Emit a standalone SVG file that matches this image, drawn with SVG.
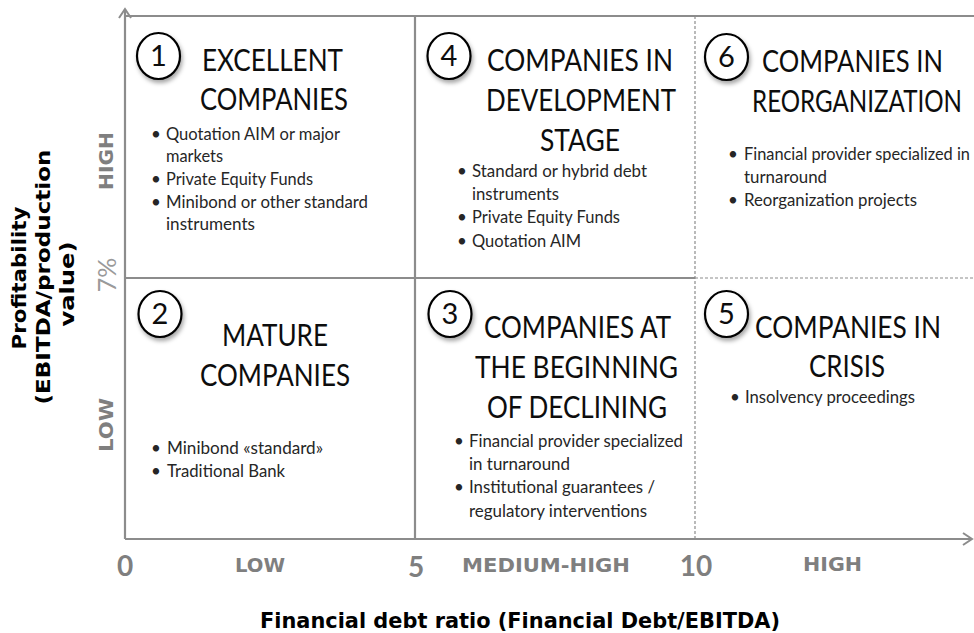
<svg xmlns="http://www.w3.org/2000/svg" width="974" height="633" viewBox="0 0 974 633">
<style>
.ln{stroke:#8c8c8c;stroke-width:2.2;fill:none}
.dl{stroke:#8c8c8c;stroke-width:1.2;stroke-dasharray:3 2;fill:none}
.ttl{font-family:Lato,"Liberation Sans",sans-serif;font-size:30px;fill:#0d0d0d}
.bl{font-family:Lato,"Liberation Sans",sans-serif;font-size:17px;fill:#262626}
.num{font-family:Lato,"Liberation Sans",sans-serif;font-size:29px;fill:#0d0d0d;text-anchor:middle}
.cir{fill:#fff;stroke:#000;stroke-width:2.2}
.ax{font-family:"DejaVu Sans",Verdana,sans-serif;font-weight:bold;font-size:20px;fill:#7f7f7f}
.axn{font-family:Lato,"Liberation Sans",sans-serif;font-weight:bold;font-size:28px;fill:#7f7f7f;text-anchor:middle}
.yt{font-family:"DejaVu Sans",Verdana,sans-serif;font-weight:bold;font-size:19px;fill:#000;text-anchor:middle}
</style>
<defs>
<filter id="sh" x="-30%" y="-30%" width="170%" height="170%">
<feDropShadow dx="1.5" dy="3" stdDeviation="2" flood-color="#000" flood-opacity="0.35"/>
</filter>
<marker id="ah" markerWidth="12" markerHeight="14" refX="10" refY="7" orient="auto" markerUnits="userSpaceOnUse">
<path d="M1,1 L10,7 L1,13" fill="none" stroke="#8c8c8c" stroke-width="2"/>
</marker>
</defs>
<rect width="974" height="633" fill="#fff"/>

<g id="connectors">
<line class="ln" x1="125" y1="539" x2="125" y2="9" marker-end="url(#ah)"/>
<line class="ln" x1="125" y1="539" x2="972" y2="539" marker-end="url(#ah)"/>
<line class="ln" x1="125" y1="16" x2="974" y2="16"/>
<line class="ln" x1="125" y1="278" x2="695" y2="278"/>
<line class="ln" x1="415" y1="16" x2="415" y2="539"/>
<line class="dl" x1="695" y1="16" x2="695" y2="539"/>
<line class="dl" x1="695" y1="278" x2="974" y2="278"/>
</g>

<g id="q1">
<ellipse class="cir" cx="158.5" cy="56" rx="21.5" ry="23" filter="url(#sh)"/>
<text class="num" x="158.5" y="66">1</text>
<text class="ttl" x="202" y="71" textLength="141" lengthAdjust="spacingAndGlyphs">EXCELLENT</text>
<text class="ttl" x="200" y="110" textLength="148" lengthAdjust="spacingAndGlyphs">COMPANIES</text>
<text class="bl" x="151" y="140">•</text><text class="bl" x="166" y="140" textLength="174" lengthAdjust="spacingAndGlyphs">Quotation AIM or major</text>
<text class="bl" x="166" y="162" textLength="57" lengthAdjust="spacingAndGlyphs">markets</text>
<text class="bl" x="151" y="185">•</text><text class="bl" x="166" y="185" textLength="147" lengthAdjust="spacingAndGlyphs">Private Equity Funds</text>
<text class="bl" x="151" y="208">•</text><text class="bl" x="166" y="208" textLength="202" lengthAdjust="spacingAndGlyphs">Minibond or other standard</text>
<text class="bl" x="166" y="230" textLength="89" lengthAdjust="spacingAndGlyphs">instruments</text>
</g>

<g id="q4">
<ellipse class="cir" cx="449" cy="56" rx="21.5" ry="23" filter="url(#sh)"/>
<text class="num" x="449" y="66">4</text>
<text class="ttl" x="487" y="71" textLength="186" lengthAdjust="spacingAndGlyphs">COMPANIES IN</text>
<text class="ttl" x="486" y="111" textLength="190" lengthAdjust="spacingAndGlyphs">DEVELOPMENT</text>
<text class="ttl" x="540" y="151" textLength="80" lengthAdjust="spacingAndGlyphs">STAGE</text>
<text class="bl" x="457" y="177">•</text><text class="bl" x="472" y="177" textLength="175" lengthAdjust="spacingAndGlyphs">Standard or hybrid debt</text>
<text class="bl" x="472" y="200" textLength="87" lengthAdjust="spacingAndGlyphs">instruments</text>
<text class="bl" x="457" y="223">•</text><text class="bl" x="472" y="223" textLength="148" lengthAdjust="spacingAndGlyphs">Private Equity Funds</text>
<text class="bl" x="457" y="247">•</text><text class="bl" x="472" y="247" textLength="109" lengthAdjust="spacingAndGlyphs">Quotation AIM</text>
</g>

<g id="q6">
<ellipse class="cir" cx="726.5" cy="57" rx="21.5" ry="23" filter="url(#sh)"/>
<text class="num" x="726.5" y="67">6</text>
<text class="ttl" x="762" y="72" textLength="181" lengthAdjust="spacingAndGlyphs">COMPANIES IN</text>
<text class="ttl" x="752" y="112" textLength="210" lengthAdjust="spacingAndGlyphs">REORGANIZATION</text>
<text class="bl" x="728" y="160">•</text><text class="bl" x="744" y="160" textLength="226" lengthAdjust="spacingAndGlyphs">Financial provider specialized in</text>
<text class="bl" x="744" y="183" textLength="83" lengthAdjust="spacingAndGlyphs">turnaround</text>
<text class="bl" x="728" y="206">•</text><text class="bl" x="744" y="206" textLength="173" lengthAdjust="spacingAndGlyphs">Reorganization projects</text>
</g>

<g id="q2">
<ellipse class="cir" cx="160" cy="314" rx="21.5" ry="23" filter="url(#sh)"/>
<text class="num" x="160" y="324">2</text>
<text class="ttl" x="222" y="346" textLength="106" lengthAdjust="spacingAndGlyphs">MATURE</text>
<text class="ttl" x="200" y="386" textLength="150" lengthAdjust="spacingAndGlyphs">COMPANIES</text>
<text class="bl" x="151" y="454">•</text><text class="bl" x="167" y="454" textLength="156" lengthAdjust="spacingAndGlyphs">Minibond «standard»</text>
<text class="bl" x="151" y="477">•</text><text class="bl" x="167" y="477" textLength="118" lengthAdjust="spacingAndGlyphs">Traditional Bank</text>
</g>

<g id="q3">
<ellipse class="cir" cx="450" cy="314" rx="21.5" ry="23" filter="url(#sh)"/>
<text class="num" x="450" y="324">3</text>
<text class="ttl" x="484" y="338" textLength="187" lengthAdjust="spacingAndGlyphs">COMPANIES AT</text>
<text class="ttl" x="475" y="378" textLength="203" lengthAdjust="spacingAndGlyphs">THE BEGINNING</text>
<text class="ttl" x="487" y="418" textLength="180" lengthAdjust="spacingAndGlyphs">OF DECLINING</text>
<text class="bl" x="454" y="447">•</text><text class="bl" x="469" y="447" textLength="214" lengthAdjust="spacingAndGlyphs">Financial provider specialized</text>
<text class="bl" x="469" y="470" textLength="101" lengthAdjust="spacingAndGlyphs">in turnaround</text>
<text class="bl" x="454" y="493">•</text><text class="bl" x="469" y="493" textLength="186" lengthAdjust="spacingAndGlyphs">Institutional guarantees /</text>
<text class="bl" x="469" y="517" textLength="178" lengthAdjust="spacingAndGlyphs">regulatory interventions</text>
</g>

<g id="q5">
<ellipse class="cir" cx="726.5" cy="314" rx="21.5" ry="23" filter="url(#sh)"/>
<text class="num" x="726.5" y="324">5</text>
<text class="ttl" x="755" y="338" textLength="186" lengthAdjust="spacingAndGlyphs">COMPANIES IN</text>
<text class="ttl" x="809" y="377" textLength="76" lengthAdjust="spacingAndGlyphs">CRISIS</text>
<text class="bl" x="730" y="403">•</text><text class="bl" x="745" y="403" textLength="170" lengthAdjust="spacingAndGlyphs">Insolvency proceedings</text>
</g>

<g id="x-axis-labels">
<text class="axn" x="125" y="576">0</text>
<text class="ax" x="235" y="572" textLength="50" lengthAdjust="spacingAndGlyphs">LOW</text>
<text class="axn" x="416" y="577">5</text>
<text class="ax" x="462" y="572" textLength="168" lengthAdjust="spacingAndGlyphs">MEDIUM-HIGH</text>
<text class="axn" x="696" y="576">10</text>
<text class="ax" x="803" y="571" textLength="59" lengthAdjust="spacingAndGlyphs">HIGH</text>
<text class="ax" x="260" y="628" textLength="520" lengthAdjust="spacingAndGlyphs" style="fill:#000;font-size:21px">Financial debt ratio (Financial Debt/EBITDA)</text>
</g>

<g id="y-axis-labels">
<text class="ax" transform="translate(113,161) rotate(-90)" text-anchor="middle" textLength="58" lengthAdjust="spacingAndGlyphs">HIGH</text>
<text transform="translate(116,275) rotate(-90)" text-anchor="middle" style="font-family:Lato,'Liberation Sans',sans-serif;font-size:25px;fill:#9a9a9a">7%</text>
<text class="ax" transform="translate(113,425) rotate(-90)" text-anchor="middle" textLength="54" lengthAdjust="spacingAndGlyphs">LOW</text>
<text class="yt" transform="translate(26,278) rotate(-90)" textLength="143" lengthAdjust="spacingAndGlyphs">Profitability</text>
<text class="yt" transform="translate(50,277) rotate(-90)" textLength="255" lengthAdjust="spacingAndGlyphs">(EBITDA/production</text>
<text class="yt" transform="translate(74,284) rotate(-90)" textLength="85" lengthAdjust="spacingAndGlyphs">value)</text>
</g>
</svg>
